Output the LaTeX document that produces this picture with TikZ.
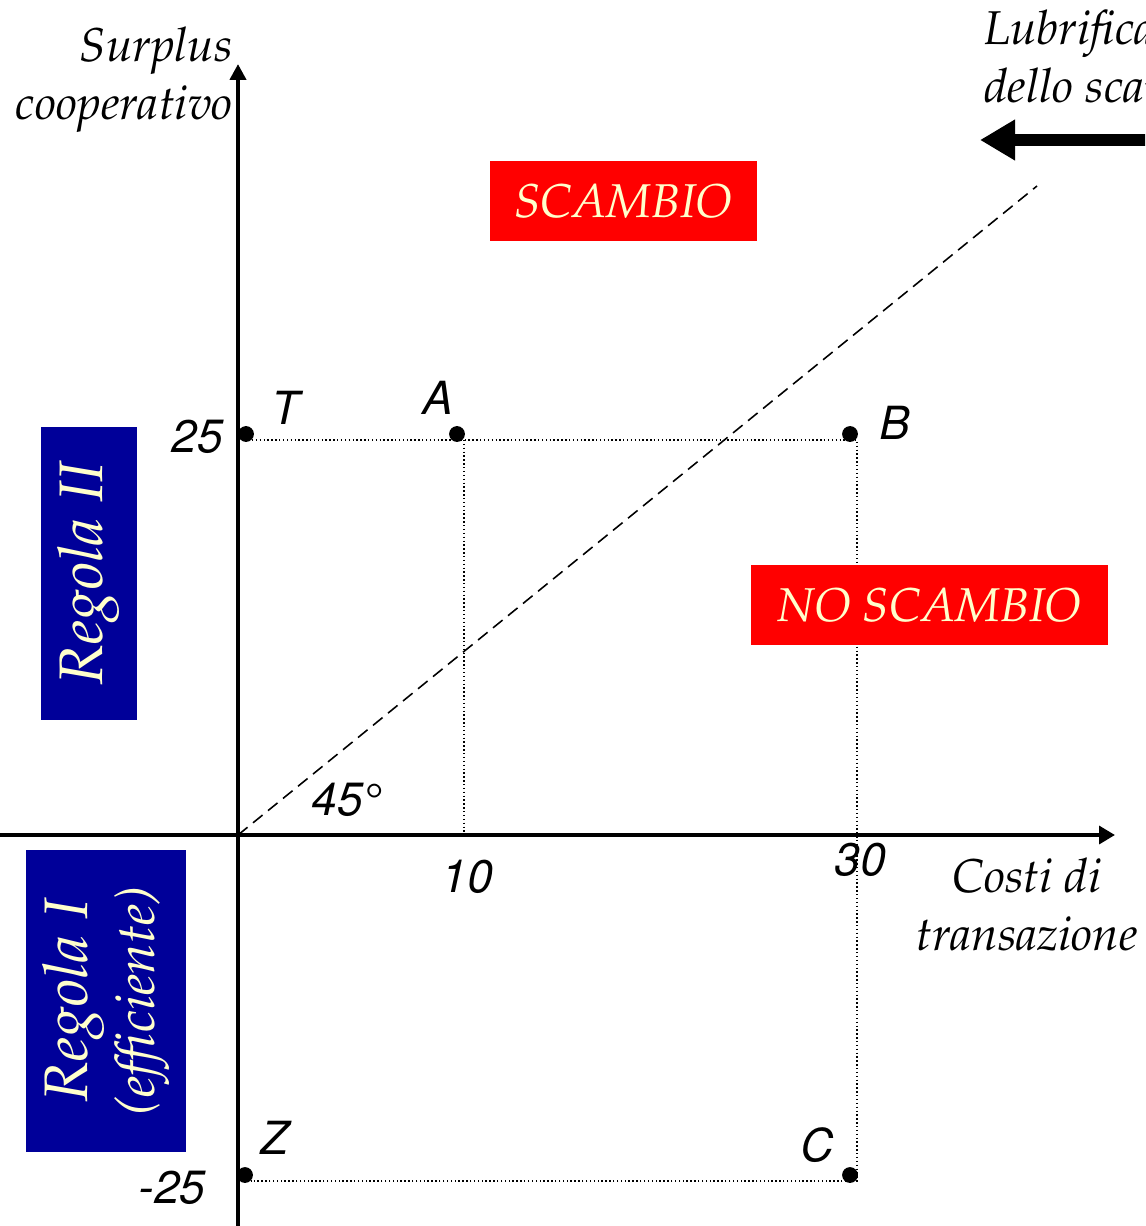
\documentclass[tikz,border=0pt]{standalone}
\usepackage[T1]{fontenc}
\usetikzlibrary{arrows.meta}
\newcommand{\palit}{\fontfamily{ppl}\itshape}
\newcommand{\helit}{\fontfamily{phv}\slshape}
\definecolor{regblu}{RGB}{0,0,153}
\definecolor{scred}{RGB}{255,0,0}
\definecolor{crema}{RGB}{255,255,204}
\begin{document}
\begin{tikzpicture}[x=0.02cm,y=-0.02cm,
    lab/.style={font=\fontsize{26}{30}\helit},
    ser/.style={font=\fontsize{27}{33}\palit},
    pt/.style={circle,fill,inner sep=0pt,minimum size=9pt},
    guide/.style={line width=0.8pt,dash pattern=on 0.8pt off 1.4pt},
    redbox/.style={fill=scred,text=crema,inner sep=0pt,minimum height=1.6cm,font=\fontsize{27}{30}\palit},
    blubox/.style={fill=regblu,text=crema,inner sep=0pt,rotate=90,align=center,font=\fontsize{35}{38}\palit}]
    \clip (0,0) rectangle (1145,1226);
    % assi
    \coordinate (O) at (238,835);
    \coordinate (ytop) at (238,64);
    \coordinate (xtop) at (1115,835);
    \draw[line width=2.3pt,-{Triangle[length=9pt,width=9pt]}] (238,1226) -- (ytop);
    \draw[line width=2.3pt,-{Triangle[length=9pt,width=10pt]}] (0,835) -- (xtop);
    \node[ser,anchor=east,align=right] (yname) at (239,80) {Surplus\\cooperativo};
    \node[ser,align=center] (xname) at (1027,905) {Costi di\\transazione};
    % bisettrice
    \coordinate (bis) at (1037,186);
    \draw[line width=0.9pt,dash pattern=on 7pt off 4pt] (O) -- (bis);
    \node[lab] (ang) at (341,800) {45\kern-0.14em\textdegree};
    % punti
    \node[pt] (T) at (246,434) {};
    \node[pt] (A) at (457,434) {};
    \node[pt] (B) at (850,434) {};
    \node[pt] (Z) at (245,1175) {};
    \node[pt] (C) at (850,1175) {};
    \coordinate (av) at ([shift={(7,6)}]A.center);
    \draw[guide] ([shift={(6,6)}]T.center) -- ([shift={(7,6)}]B.center)
        -- ([shift={(7,6)}]C.center) -- ([shift={(6,6)}]Z.center);
    \draw[guide] (av) -- (av |- O);
    \node[lab] (Tl) at (283,408) {T};
    \node[lab] (Al) at (436,398) {A};
    \node[lab] (Bl) at (893,423) {B};
    \node[lab] (Zl) at (272,1138) {Z};
    \node[lab] (Cl) at (815,1145) {C};
    \node[lab] (y25) at (195,437) {25};
    \node[lab] (ym25) at (170,1188) {-25};
    \node[lab] (x10) at (465,877) {10};
    \node[lab] (x30) at (858,860) {30};
    % riquadri
    \node[redbox,minimum width=5.34cm] (sc) at (623.5,201) {SCAMBIO};
    \node[redbox,minimum width=7.14cm] (nosc) at (929.5,605) {NO SCAMBIO};
    \node[blubox,minimum width=5.86cm,minimum height=1.92cm] (reg2) at (89,573.5) {Regola II};
    \node[blubox,minimum width=6.04cm,minimum height=3.2cm] (reg1) at (106,1001)
        {Regola I\\{\fontsize{31}{34}\palit(efficiente)}};
    % lubrificazione
    \node[ser,anchor=west,align=left] (lub) at (978,57) {Lubrificazione\\dello scambio};
    \coordinate (lubs) at (1160,140);
    \coordinate (lube) at (980,140);
    \draw[line width=6.8pt,-{Triangle[length=20pt,width=22pt]}] (lubs) -- (lube);
\end{tikzpicture}
\end{document}
